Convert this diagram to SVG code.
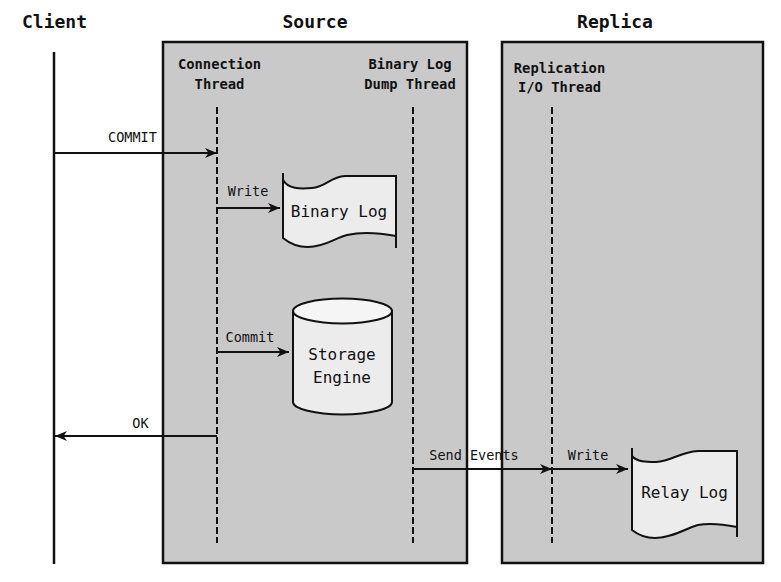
<svg xmlns="http://www.w3.org/2000/svg" width="781" height="582" viewBox="0 0 781 582">
<defs>
<marker id="arr" markerUnits="userSpaceOnUse" markerWidth="14" markerHeight="12" refX="12" refY="5" orient="auto">
<path d="M0,0 L12,5 L0,10 L3.5,5 Z" fill="#111"/>
</marker>
<style>
.box{fill:#c9c9c9;stroke:#111;stroke-width:2.5}
.life{stroke:#111;stroke-width:2;stroke-dasharray:7 3;fill:none}
.conn{stroke:#111;stroke-width:2;fill:none;marker-end:url(#arr)}
.shape{fill:#ececec;stroke:#111;stroke-width:2}
.stub{stroke:#111;stroke-width:2;fill:none}
text{font-family:"DejaVu Sans Mono","Liberation Mono",monospace;fill:#111;text-anchor:middle}
.hdr{font-size:18px;font-weight:bold}
.thr{font-size:13.8px;font-weight:bold}
.lbl{font-size:13.5px}
.in{font-size:16px}
</style>
</defs>
<rect width="781" height="582" fill="#fff"/>
<g id="client">
<text class="hdr" x="54.5" y="28">Client</text>
<line x1="54" y1="52" x2="54" y2="564" stroke="#111" stroke-width="2.5"/>
</g>
<g id="source">
<text class="hdr" x="315" y="28">Source</text>
<rect class="box" x="163" y="42" width="304" height="521"/>
</g>
<g id="replica">
<text class="hdr" x="615" y="28">Replica</text>
<rect class="box" x="502" y="42" width="261" height="521"/>
</g>
<g id="connection-thread">
<text class="thr" x="219.5" y="69">Connection</text>
<text class="thr" x="219.5" y="89">Thread</text>
<line class="life" x1="217" y1="107" x2="217" y2="543"/>
</g>
<g id="dump-thread">
<text class="thr" x="410" y="69">Binary Log</text>
<text class="thr" x="410" y="89">Dump Thread</text>
<line class="life" x1="413" y1="107" x2="413" y2="543"/>
</g>
<g id="io-thread">
<text class="thr" x="559.5" y="73">Replication</text>
<text class="thr" x="559.5" y="92">I/O Thread</text>
<line class="life" x1="552" y1="107" x2="552" y2="543"/>
</g>
<g id="binary-log">
<path class="shape" d="M283,180 C288,189 300,189 312,188 C326,187 330,177 345,176 L396,176 L396,236 C380,233 360,232 347,235 C335,238 325,247 308,247 C296,247 289,243 283,238 Z"/>
<path class="stub" d="M283,173 L283,180 M396,236 L396,248"/>
<text class="in" x="339" y="217">Binary Log</text>
</g>
<g id="storage-engine">
<path class="shape" d="M293,311 L293,402 A49.5,12.5 0 0 0 392,402 L392,311 Z"/>
<ellipse cx="342.5" cy="311" rx="49.5" ry="12.5" fill="#f5f5f5" stroke="#111" stroke-width="2"/>
<text class="in" x="342" y="360">Storage</text>
<text class="in" x="342" y="383">Engine</text>
</g>
<g id="relay-log">
<path class="shape" d="M632,456 C637,462 646,462 656,462 C672,461 680,452 698,451 L737,451 L737,527 C722,524 708,523 698,525 C686,528 673,538 655,538 C645,538 637,534 632,530 Z"/>
<path class="stub" d="M632,448 L632,456 M737,527 L737,537"/>
<text class="in" x="684.5" y="498">Relay Log</text>
</g>
<g id="connectors">
<path class="conn" d="M54,153 L217,153"/>
<text class="lbl" x="132.5" y="142">COMMIT</text>
<path class="conn" d="M217,208 L280,208"/>
<text class="lbl" x="248" y="196">Write</text>
<path class="conn" d="M217,352 L289,352"/>
<text class="lbl" x="250" y="342">Commit</text>
<path class="conn" d="M217,436 L55,436"/>
<text class="lbl" x="140.5" y="428">OK</text>
<path class="conn" d="M413,469 L552,469"/>
<text class="lbl" x="474" y="460">Send Events</text>
<path class="conn" d="M552,469 L628,469"/>
<text class="lbl" x="588" y="460">Write</text>
</g>
</svg>
